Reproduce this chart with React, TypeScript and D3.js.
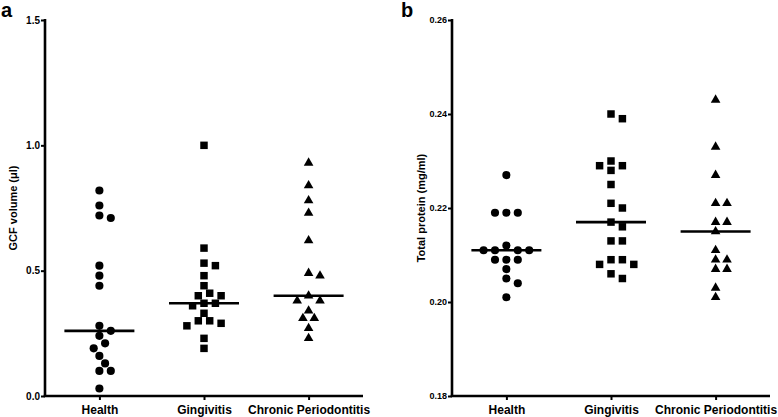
import React, { useRef, useEffect } from 'react';
import * as d3 from 'd3';

const categories = ['Health', 'Gingivitis', 'Chronic Periodontitis'];

// panel a - GCF volume (ul)
const gcfHealth = [0.82, 0.76, 0.72, 0.71, 0.52, 0.48, 0.44, 0.28, 0.26, 0.24, 0.21, 0.19, 0.16, 0.13, 0.10, 0.10, 0.03];
const gcfGingivitis = [1.00, 0.59, 0.53, 0.52, 0.48, 0.44, 0.41, 0.40, 0.40, 0.37, 0.37, 0.36, 0.33, 0.30, 0.30, 0.29, 0.28, 0.23, 0.19];
const gcfChronic = [0.93, 0.84, 0.78, 0.73, 0.62, 0.49, 0.48, 0.40, 0.38, 0.38, 0.34, 0.31, 0.31, 0.27, 0.23];
const gcfTicks = ['0.0', '0.5', '1.0', '1.5'];

// panel b - total protein (mg/ml)
const proteinHealth = [0.227, 0.219, 0.219, 0.219, 0.212, 0.211, 0.211, 0.211, 0.211, 0.209, 0.209, 0.209, 0.207, 0.205, 0.204, 0.201];
const proteinGingivitis = [0.240, 0.239, 0.230, 0.229, 0.229, 0.228, 0.225, 0.221, 0.220, 0.217, 0.216, 0.213, 0.213, 0.209, 0.209, 0.208, 0.208, 0.206, 0.205];
const proteinChronic = [0.243, 0.233, 0.227, 0.221, 0.221, 0.217, 0.217, 0.215, 0.211, 0.209, 0.209, 0.207, 0.207, 0.203, 0.201];
const proteinTicks = ['0.18', '0.20', '0.22', '0.24', '0.26'];

const font = '"Liberation Sans", Arial, Helvetica, sans-serif';

// simple beeswarm: spread points sideways in half-symbol columns so they don't overlap
const swarm = (values: number[], y: (v: number) => number, unit: number, diam: number) => {
    const order = d3.range(values.length).sort((i, j) => values[j] - values[i]);
    const placed: { x: number, y: number }[] = [];
    const out: number[] = new Array(values.length);
    order.forEach(i => {
        const py = y(values[i]);
        for (let k = 0; k < 40; k++) {
            const col = k === 0 ? 0 : (k % 2 ? (k + 1) / 2 : -k / 2);
            const px = col * unit;
            if (placed.every(p => Math.hypot(p.x - px, p.y - py) >= diam)) {
                placed.push({ x: px, y: py });
                out[i] = px;
                break;
            }
        }
    });
    return out;
};

const App = () => {

    const svgRef = useRef<SVGSVGElement>(null);

    useEffect(() => {

        const svg = d3.select(svgRef.current);
        svg.selectAll('*').remove();

        const symbols = [d3.symbolCircle, d3.symbolSquare, d3.symbolTriangle];
        const sizes = [52, 56, 40];

        const drawPanel = (opts: {
            left: number, right: number, top: number, bottom: number,
            groups: number[][], ticks: string[], tickFont: number,
            title: string, letter: string, titleX: number, letterX: number
        }) => {
            const tickVals = opts.ticks.map(Number);
            const y = d3.scaleLinear()
                .domain([tickVals[0], tickVals[tickVals.length - 1]])
                .range([opts.bottom, opts.top]);
            const x = d3.scalePoint<string>()
                .domain(categories)
                .range([opts.left, opts.right])
                .padding(0.52);

            const g = svg.append('g');

            // y axis
            const yAxis = g.append('g')
                .attr('transform', `translate(${opts.left},0)`)
                .call(d3.axisLeft(y).tickValues(tickVals).tickFormat((d, i) => opts.ticks[i]).tickSize(4).tickSizeOuter(0).tickPadding(1));
            yAxis.select('.domain').attr('stroke-width', 2.6).attr('d', `M0,${opts.top - 1}V${opts.bottom}`);
            yAxis.selectAll('.tick line').attr('stroke-width', 2);
            yAxis.selectAll('text')
                .style('font-family', font).style('font-size', `${opts.tickFont}px`).style('font-weight', 'bold').attr('fill', '#000');

            // x axis
            const xAxis = g.append('g')
                .attr('transform', `translate(0,${opts.bottom})`)
                .call(d3.axisBottom(x).tickSize(4).tickSizeOuter(0).tickPadding(5));
            xAxis.select('.domain').attr('stroke-width', 2.6).attr('d', `M${opts.left - 1.3},0H${opts.right}`);
            xAxis.selectAll('.tick line').attr('stroke-width', 2);
            xAxis.selectAll('text')
                .style('font-family', font).style('font-size', '12px').style('font-weight', 'bold').attr('fill', '#000');

            // points + median line
            opts.groups.forEach((vals, gi) => {
                const cx = x(categories[gi]) as number;
                const offsets = swarm(vals, y, 5.7, 9);
                g.append('g')
                    .selectAll('path')
                    .data(vals)
                    .join('path')
                    .attr('d', d3.symbol().type(symbols[gi]).size(sizes[gi]))
                    .attr('transform', (d, i) => `translate(${cx + offsets[i]},${y(d)})`)
                    .attr('fill', '#000');

                const med = d3.median(vals) as number;
                g.append('line')
                    .attr('x1', cx - 35).attr('x2', cx + 35)
                    .attr('y1', y(med)).attr('y2', y(med))
                    .attr('stroke', '#000').attr('stroke-width', 2.6);
            });

            // axis title
            g.append('text')
                .attr('transform', `translate(${opts.titleX},${(opts.top + opts.bottom) / 2}) rotate(-90)`)
                .attr('text-anchor', 'middle')
                .style('font-family', font).style('font-size', '11px').style('font-weight', 'bold')
                .text(opts.title);

            // panel letter
            g.append('text')
                .attr('x', opts.letterX).attr('y', 17)
                .style('font-family', font).style('font-size', '20px').style('font-weight', 'bold')
                .text(opts.letter);
        };

        drawPanel({
            left: 45, right: 363, top: 20, bottom: 396,
            groups: [gcfHealth, gcfGingivitis, gcfChronic],
            ticks: gcfTicks, tickFont: 10,
            title: 'GCF volume (\u03bcl)', letter: 'a', titleX: 17, letterX: 1
        });

        drawPanel({
            left: 452, right: 770, top: 20, bottom: 396,
            groups: [proteinHealth, proteinGingivitis, proteinChronic],
            ticks: proteinTicks, tickFont: 9,
            title: 'Total protein (mg/ml)', letter: 'b', titleX: 425, letterX: 401
        });

    }, []);

    return (
        <svg ref={svgRef} width={778} height={417}
            style={{ position: 'absolute', left: 0, top: 0, background: '#fff' }}></svg>
    );
};

export default App;
